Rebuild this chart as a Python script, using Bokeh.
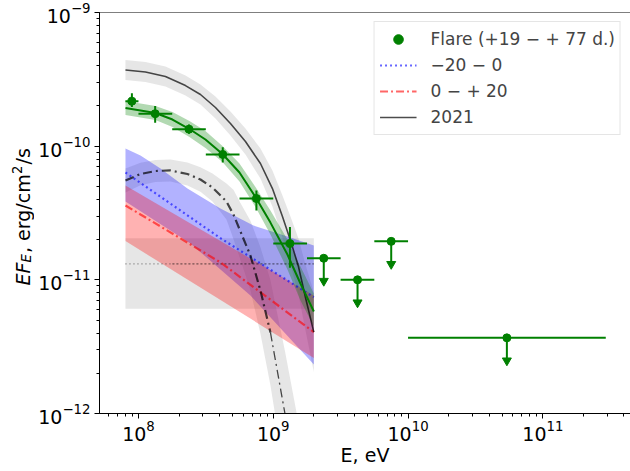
import math
from bokeh.plotting import figure
from bokeh.layouts import row
from bokeh.models import Range1d, Span, Label, Legend, LegendItem
from bokeh.embed import file_html
from bokeh.resources import INLINE

# ---------------- data ----------------
# Flare (+19 - +77 d.) detections
flare_E = [8.94e7, 1.33e8, 2.37e8, 4.22e8, 7.5e8, 1.33e9]
flare_E_lo = [8.0e7, 1.0e8, 1.78e8, 3.16e8, 5.62e8, 1.0e9]
flare_E_hi = [1.0e8, 1.78e8, 3.16e8, 5.62e8, 1.0e9, 1.78e9]
flare_F = [2.17e-10, 1.75e-10, 1.34e-10, 8.67e-11, 4.06e-11, 1.87e-11]
flare_F_lo = [1.96e-10, 1.5e-10, 1.24e-10, 7.55e-11, 3.3e-11, 1.23e-11]
flare_F_hi = [2.49e-10, 2.0e-10, 1.45e-10, 9.8e-11, 4.65e-11, 2.48e-11]

# Flare upper limits
ul_E = [2.37e9, 4.22e9, 7.5e9, 5.41e10]
ul_E_lo = [1.78e9, 3.16e9, 5.62e9, 1.0e10]
ul_E_hi = [3.16e9, 5.62e9, 1.0e10, 2.93e11]
ul_F = [1.45e-11, 1.0e-11, 1.94e-11, 3.68e-12]

# Flare model (green)
fl_E = [8.01e7, 1.035e8, 1.337e8, 1.788e8, 2.389e8, 3.14e8, 4.2e8, 5.616e8, 7.38e8, 9.53e8, 1.274e9, 1.591e9, 2.0e9]
fl_F = [1.93e-10, 1.849e-10, 1.77e-10, 1.583e-10, 1.344e-10, 1.122e-10, 8.74e-11, 6.35e-11, 4.17e-11, 2.68e-11, 1.547e-11, 9.39e-12, 5.79e-12]
fl_F_up = [2.177e-10, 2.085e-10, 1.997e-10, 1.80e-10, 1.543e-10, 1.299e-10, 1.003e-10, 7.42e-11, 4.95e-11, 3.30e-11, 2.003e-11, 1.258e-11, 7.9e-12]
fl_F_dn = [1.71e-10, 1.639e-10, 1.57e-10, 1.391e-10, 1.171e-10, 9.69e-11, 7.61e-11, 5.44e-11, 3.51e-11, 2.18e-11, 1.195e-11, 7.0e-12, 4.48e-12]

# 2021 model (dark grey)
y21_E = [8.01e7, 1.127e8, 1.586e8, 2.232e8, 2.884e8, 3.726e8, 4.814e8, 6.22e8, 8.035e8, 9.86e8, 1.17e9, 1.342e9, 1.538e9, 1.734e9, 2.0e9]
y21_F = [3.71e-10, 3.59e-10, 3.32e-10, 2.84e-10, 2.435e-10, 1.947e-10, 1.477e-10, 1.083e-10, 7.42e-11, 4.82e-11, 2.98e-11, 1.97e-11, 1.258e-11, 7.38e-12, 4.06e-12]
y21_F_up = [4.41e-10, 4.26e-10, 3.94e-10, 3.38e-10, 2.892e-10, 2.352e-10, 1.816e-10, 1.356e-10, 9.61e-11, 6.58e-11, 4.27e-11, 2.98e-11, 2.04e-11, 1.302e-11, 8.08e-12]
y21_F_dn = [3.13e-10, 3.02e-10, 2.795e-10, 2.393e-10, 2.05e-10, 1.61e-10, 1.202e-10, 8.66e-11, 5.73e-11, 3.54e-11, 2.07e-11, 1.302e-11, 7.77e-12, 4.18e-12, 2.04e-12]

# dash-dot model with grey band
dd_E = [8.01e7, 1.035e8, 1.337e8, 1.728e8, 2.309e8, 2.884e8, 3.54e8, 4.496e8, 5.067e8, 5.71e8, 6.77e8, 8.035e8, 9.53e8, 1.221e9, 1.388e9, 1.591e9]
dd_F = [5.535e-11, 6.19e-11, 6.52e-11, 6.58e-11, 6.19e-11, 5.63e-11, 4.91e-11, 3.855e-11, 3.08e-11, 2.30e-11, 1.52e-11, 8.32e-12, 4.04e-12, 1.0e-12, 4.85e-13, 2.23e-13]
dd_F_up = [6.81e-11, 7.51e-11, 7.88e-11, 7.95e-11, 7.545e-11, 6.96e-11, 6.255e-11, 5.26e-11, 4.71e-11, 3.757e-11, 2.765e-11, 1.751e-11, 9.99e-12, 2.94e-12, 1.479e-12, 7.09e-13]
dd_F_dn = [4.50e-11, 5.105e-11, 5.395e-11, 5.44e-11, 5.08e-11, 4.555e-11, 3.85e-11, 2.83e-11, 2.017e-11, 1.407e-11, 8.36e-12, 3.95e-12, 1.63e-12, 3.40e-13, 1.59e-13, 7.05e-14]

# -20 - 0 (blue)
bl_E = [8.01e7, 4.058e8, 2.0e9]
bl_F = [6.35e-11, 2.05e-11, 7.42e-12]
bl_up_E = [8.01e7, 1.035e8, 1.457e8, 2.309e8, 4.058e8, 7.13e8, 1.274e9, 2.0e9]
bl_up_F = [9.61e-11, 8.51e-11, 6.81e-11, 4.82e-11, 3.42e-11, 2.55e-11, 2.11e-11, 1.807e-11]
bl_dn_E = [8.01e7, 2.431e8, 6.77e8, 2.0e9]
bl_dn_F = [3.855e-11, 1.87e-11, 7.63e-12, 2.33e-12]

# 0 - +20 (red)
rd_E = [8.01e7, 4.058e8, 2.0e9]
rd_F = [3.60e-11, 1.35e-11, 4.06e-12]
rd_band_E = [8.01e7, 2.0e9]
rd_F_up = [5.08e-11, 7.63e-12]
rd_F_dn = [1.95e-11, 2.6e-12]

# flat grey box with dotted level
box_E = [8.01e7, 2.0e9]
box_F_lo = [6.07e-12, 6.07e-12]
box_F_hi = [2.05e-11, 2.05e-11]
box_F_mid = [1.318e-11, 1.318e-11]
box_dark_E = [1.728e8, 2.0e9]

legend_labels = ["Flare (+19 \u2212 + 77 d.)", "\u221220 \u2212 0", "0 \u2212 + 20", "2021"]

FONT = "DejaVu Sans"
X0, X1 = 5.14e7, 4.47e11
Y0, Y1 = 1e-12, 1e-9
W, H = 630, 471
LW = 34          # width of the strip holding the y-axis title
MT, MB = 12, 58

p = figure(width=W - LW, height=H, x_axis_type="log", y_axis_type="log",
           x_range=Range1d(X0, X1), y_range=Range1d(Y0, Y1),
           output_backend="svg", toolbar_location=None,
           min_border_left=99 - LW, min_border_right=0, min_border_top=MT, min_border_bottom=MB)
p.xgrid.visible = False
p.ygrid.visible = False
p.outline_line_color = None
p.background_fill_color = "white"
p.border_fill_color = "white"


def poly(E_up, F_up, E_dn, F_dn):
    return list(E_up) + list(E_dn)[::-1], list(F_up) + list(F_dn)[::-1]


# bands
p.varea(x=box_E, y1=box_F_lo, y2=box_F_hi, fill_color="grey", fill_alpha=0.2)
p.varea(x=y21_E, y1=y21_F_dn, y2=y21_F_up, fill_color="grey", fill_alpha=0.2)
p.varea(x=dd_E, y1=dd_F_dn, y2=dd_F_up, fill_color="grey", fill_alpha=0.2)
xs, ys = poly(bl_up_E, bl_up_F, bl_dn_E, bl_dn_F)
p.patch(xs, ys, fill_color="blue", fill_alpha=0.3, line_color=None)
p.varea(x=rd_band_E, y1=rd_F_dn, y2=rd_F_up, fill_color="red", fill_alpha=0.3)
p.varea(x=fl_E, y1=fl_F_dn, y2=fl_F_up, fill_color="green", fill_alpha=0.3)

# lines
p.line(box_E, box_F_mid, line_color="black", line_alpha=0.5, line_width=1.2, line_dash="1 3")
p.line(box_dark_E, box_F_mid, line_color="black", line_alpha=0.6, line_width=1.2, line_dash="1 3",
       line_dash_offset=2)
r_blue = p.line(bl_E, bl_F, line_color="blue", line_alpha=0.6, line_width=2.2, line_dash="2 3")
r_red = p.line(rd_E, rd_F, line_color="red", line_alpha=0.6, line_width=2.2, line_dash="8 3 2 3")
p.line(dd_E[:13], dd_F[:13], line_color="black", line_alpha=0.7, line_width=2.2, line_dash="9 4 2 4")
p.line(dd_E[12:], dd_F[12:], line_color="black", line_alpha=0.7, line_width=1.3, line_dash="9 4 2 4")
r_2021 = p.line(y21_E, y21_F, line_color="black", line_alpha=0.7, line_width=1.6)
p.line(fl_E, fl_F, line_color="green", line_width=2)

# flare points
p.segment(x0=flare_E_lo, y0=flare_F, x1=flare_E_hi, y1=flare_F, line_color="green", line_width=2)
p.segment(x0=flare_E, y0=flare_F_lo, x1=flare_E, y1=flare_F_hi, line_color="green", line_width=2)
r_pts = p.scatter(flare_E, flare_F, marker="circle", size=8, fill_color="green", line_color="green")

# upper limits
ul_end = [f * 10 ** -0.17 for f in ul_F]
p.segment(x0=ul_E_lo, y0=ul_F, x1=ul_E_hi, y1=ul_F, line_color="green", line_width=2)
p.segment(x0=ul_E, y0=ul_F, x1=ul_E, y1=ul_end, line_color="green", line_width=2)
p.scatter(ul_E, ul_end, marker="inverted_triangle", size=9, fill_color="green", line_color="green")
p.scatter(ul_E, ul_F, marker="circle", size=8, fill_color="green", line_color="green")

legend = Legend(items=[
    LegendItem(label=legend_labels[0], renderers=[r_pts]),
    LegendItem(label=legend_labels[1], renderers=[r_blue]),
    LegendItem(label=legend_labels[2], renderers=[r_red]),
    LegendItem(label=legend_labels[3], renderers=[r_2021]),
], location="top_right")
legend.label_text_font = FONT
legend.label_text_font_size = "17px"
legend.glyph_width = 37
legend.glyph_height = 24
legend.label_height = 24
legend.label_standoff = 14
legend.spacing = 2
legend.padding = 5
legend.margin = 9
legend.border_line_color = "#cccccc"
legend.border_line_width = 1
legend.background_fill_alpha = 0.85
p.add_layout(legend)

# top spine
p.add_layout(Span(location=Y1, dimension="width", line_color="black", line_width=1))

# axes styling
for ax in (p.xaxis[0], p.yaxis[0]):
    ax.axis_line_color = "black"
    ax.major_tick_line_color = "black"
    ax.minor_tick_line_color = "black"
    ax.major_tick_in = 0
    ax.major_tick_out = 5
    ax.minor_tick_in = 0
    ax.minor_tick_out = 3
    ax.major_label_text_font = FONT
    ax.major_label_text_font_size = "19px"
    ax.major_label_text_color = "black"

p.xaxis.major_label_standoff = 1
p.yaxis.major_label_standoff = 4
p.xaxis.axis_label = "E, eV"
p.xaxis.axis_label_text_font = FONT
p.xaxis.axis_label_text_font_size = "19px"
p.xaxis.axis_label_text_font_style = "normal"
p.xaxis.axis_label_text_color = "black"
p.xaxis.axis_label_standoff = 0

# strip on the left holding the composed, rotated y-axis title;
# its frame is given the same vertical extent as the main frame, and the
# y range runs in page pixels (top of frame = 12 px, bottom = 413 px)
FT, FB = MT, H - MB
q = figure(width=LW, height=H, x_range=Range1d(0, LW), y_range=Range1d(FB, FT),
           x_axis_location=None, y_axis_location=None,
           output_backend="svg", toolbar_location=None,
           min_border_left=0, min_border_right=0, min_border_top=MT, min_border_bottom=MB)
q.xgrid.visible = False
q.ygrid.visible = False
q.outline_line_color = None
q.background_fill_color = "white"
q.border_fill_color = "white"

ang = math.pi / 2
pieces = [
    ("EF", "19px", "italic", 22, 285),
    ("E", "13.3px", "italic", 25.5, 262),
    (", erg/cm", "19px", "normal", 22, 252.5),
    ("2", "13.3px", "normal", 16.5, 173.5),
    ("/s", "19px", "normal", 22, 164),
]
for txt, fs, st, px, py in pieces:
    q.add_layout(Label(x=px, y=py, text=txt, angle=ang,
                       text_font=FONT, text_font_size=fs, text_font_style=st,
                       text_align="left", text_baseline="alphabetic", text_color="black"))

layout = row(q, p)
open("out.html", "w").write(file_html(layout, INLINE, title="SED"))
